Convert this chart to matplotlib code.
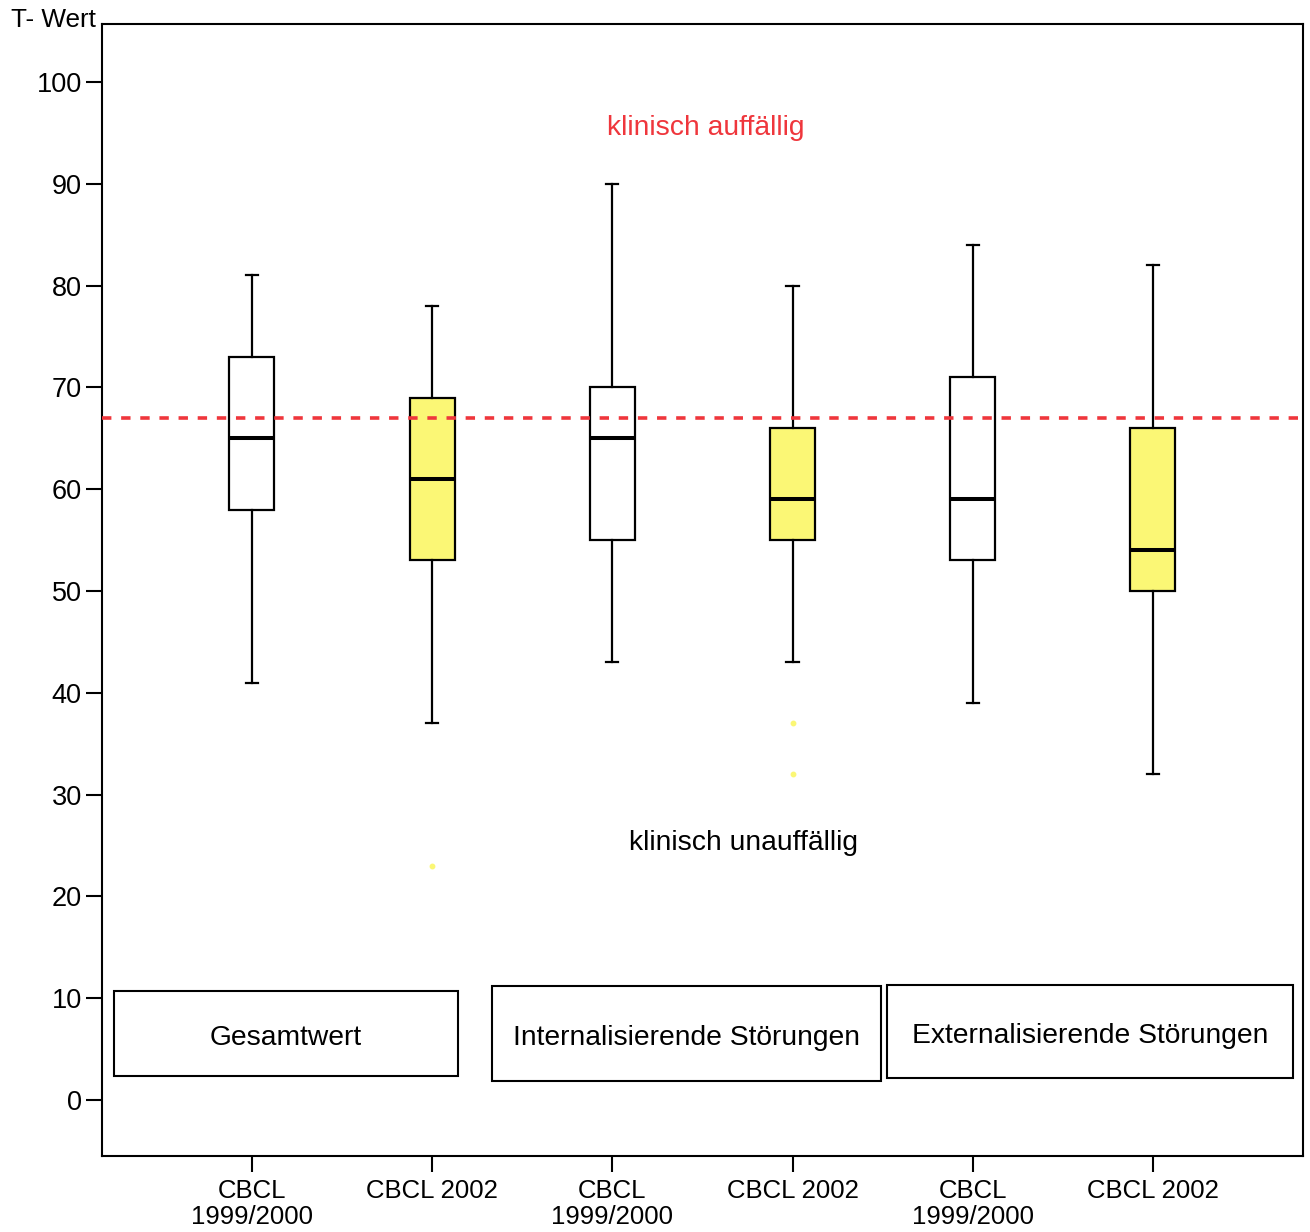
import matplotlib

matplotlib.use("Agg")
import matplotlib.pyplot as plt
from matplotlib.patches import Rectangle

plt.rcParams["font.family"] = ["Liberation Sans", "DejaVu Sans"]

# T-values per scale and CBCL version (whisker ends, quartiles, median)
labels = ["CBCL\n1999/2000", "CBCL 2002", "CBCL\n1999/2000",
          "CBCL 2002", "CBCL\n1999/2000", "CBCL 2002"]
whisk_lo = [41, 37, 43, 43, 39, 32]
q1 = [58, 53, 55, 55, 53, 50]
median = [65, 61, 65, 59, 59, 54]
q3 = [73, 69, 70, 66, 71, 66]
whisk_hi = [81, 78, 90, 80, 84, 82]
outliers = [[], [23], [], [37, 32], [], []]
is_2002 = [False, True, False, True, False, True]

cutoff = 67
groups = ["Gesamtwert", "Internalisierende Störungen", "Externalisierende Störungen"]

YELLOW = "#fbf775"
RED = "#ef363c"

fig = plt.figure(figsize=(13.10, 12.32), dpi=100)
ax = fig.add_axes([102 / 1310, 76 / 1232, 1201 / 1310, 1132 / 1232])

stats = []
for i in range(len(labels)):
    stats.append(dict(whislo=whisk_lo[i], q1=q1[i], med=median[i], q3=q3[i],
                      whishi=whisk_hi[i], fliers=outliers[i]))

pos = list(range(1, len(labels) + 1))
bp = ax.bxp(stats, positions=pos, widths=0.25, patch_artist=True,
            capwidths=0.068,
            boxprops=dict(edgecolor="black", linewidth=1.6),
            medianprops=dict(color="black", linewidth=2.9),
            whiskerprops=dict(color="black", linewidth=1.6),
            capprops=dict(color="black", linewidth=1.6),
            flierprops=dict(marker="o", markersize=3.2, markerfacecolor=YELLOW,
                            markeredgecolor=YELLOW))
for box, yellow in zip(bp["boxes"], is_2002):
    box.set_facecolor(YELLOW if yellow else "white")

ax.axhline(cutoff, color=RED, lw=2.6, dashes=(2.6, 2.7), zorder=4)

ax.text(3.52, 95.5, "klinisch auffällig", color=RED, fontsize=20.3,
        ha="center", va="center")
ax.text(3.73, 25.2, "klinisch unauffällig", color="black", fontsize=20.3,
        ha="center", va="center")

# group frames below the boxes
frames = [(0.234, 2.36, 2.143, 10.7), (2.332, 1.87, 4.49, 11.2),
          (4.524, 2.16, 6.777, 11.3)]
for (x0, y0, x1, y1), name in zip(frames, groups):
    ax.add_patch(Rectangle((x0, y0), x1 - x0, y1 - y0, fill=False,
                           edgecolor="black", lw=1.5))
    ax.text((x0 + x1) / 2, (y0 + y1) / 2 - 0.45, name, fontsize=20.3,
            ha="center", va="center")

ax.set_xlim(0.168, 6.833)
ax.set_ylim(-5.5, 105.7)
ax.set_yticks(range(0, 101, 10))
ax.set_xticks(pos)
ax.set_xticklabels(labels, linespacing=1.1)
ax.tick_params(axis="both", direction="out", length=11.5, width=1.5,
               color="black")
ax.tick_params(axis="x", pad=5, labelsize=18.5)
ax.tick_params(axis="y", pad=3, labelsize=19.5)
for sp in ax.spines.values():
    sp.set_linewidth(1.5)

fig.text(96 / 1310, 1 - 20 / 1232, "T- Wert", fontsize=18.8, ha="right", va="center")

fig.savefig("out.png", dpi=100, facecolor="white")
